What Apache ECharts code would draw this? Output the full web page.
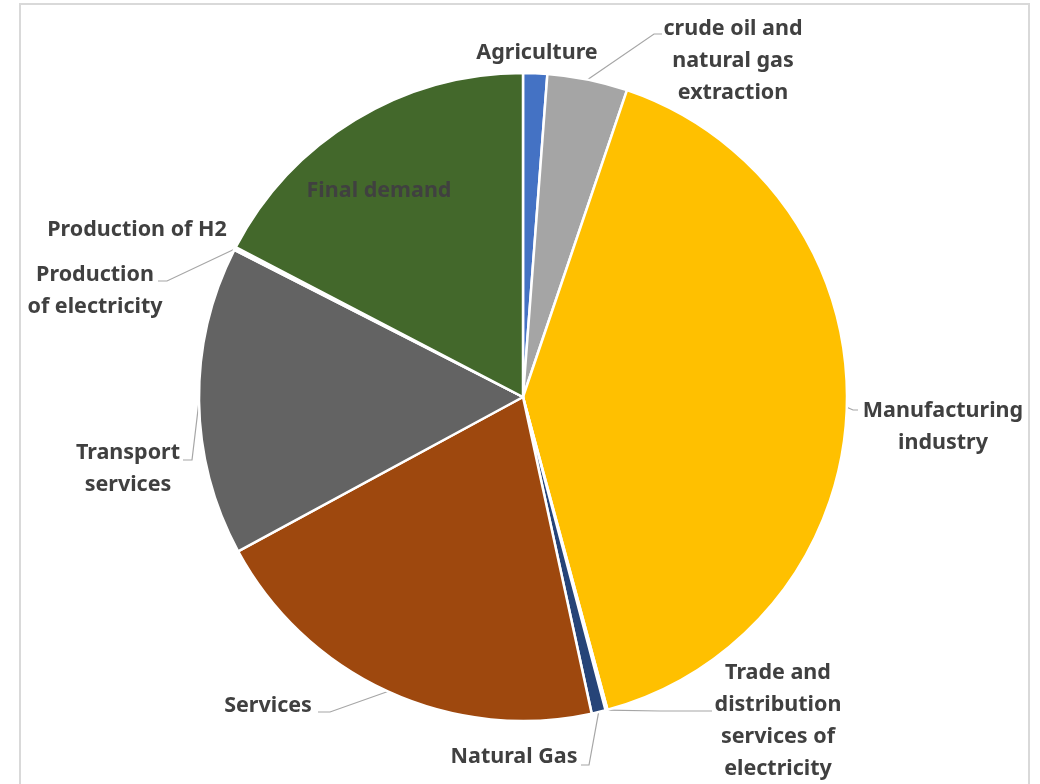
<!DOCTYPE html>
<html>
<head>
<meta charset="utf-8">
<script src="https://cdn.jsdelivr.net/npm/echarts@6/dist/echarts.min.js"></script>
<style>
  html, body { margin: 0; padding: 0; background: #ffffff; }
  #chart { width: 1040px; height: 784px; }
</style>
</head>
<body>
<div id="chart"></div>
<script>
// Share of the total by sector (percent), clockwise from 12 o'clock
const categories = [
  'Agriculture',
  'crude oil and\nnatural gas\nextraction',
  'Manufacturing\nindustry',
  'Trade and\ndistribution\nservices of\nelectricity',
  'Natural Gas',
  'Services',
  'Transport\nservices',
  'Production\nof electricity',
  'Production of H2',
  'Final demand'
];
const shares = [1.2, 4.0, 40.6, 0.1, 0.7, 20.5, 15.4, 0.1, 0.05, 17.35];
const sliceColors = ['#4472C4', '#A5A5A5', '#FFC000', '#70AD47', '#264478',
                     '#9E480E', '#636363', '#997300', '#255E91', '#43682B'];

// Where each label sits, and the bend/end of its guide line (null = no line)
const labelPlacement = [
  { x: 537, y: 53,  line: null },
  { x: 733, y: 61,  line: [[654, 34], [662, 34]] },
  { x: 943, y: 427, line: [[853, 410], [858, 410]] },
  { x: 778, y: 721, line: [[660, 711], [712, 711]] },
  { x: 514, y: 757, line: [[589, 765], [581, 765]] },
  { x: 268, y: 706, line: [[330, 712], [318, 712]] },
  { x: 128, y: 469, line: [[192, 460], [183, 460]] },
  { x: 95,  y: 291, line: [[167, 281], [158, 281]] },
  { x: 137, y: 230, line: null },
  { x: 379, y: 191, line: null }
];

const chart = echarts.init(document.getElementById('chart'), null, { renderer: 'canvas' });

const data = categories.map((name, i) => ({
  name: name,
  value: shares[i],
  itemStyle: { color: sliceColors[i] },
  labelLine: { show: !!labelPlacement[i].line }
}));

chart.setOption({
  animation: false,
  backgroundColor: '#ffffff',
  graphic: [{
    type: 'rect',
    shape: { x: 20, y: 4, width: 1009, height: 800 },
    style: { fill: 'none', stroke: '#d9d9d9', lineWidth: 2 },
    silent: true
  }],
  series: [{
    type: 'pie',
    center: [523, 397],
    radius: [0, 324],
    startAngle: 90,
    clockwise: true,
    avoidLabelOverlap: false,
    minAngle: 0,
    data: data,
    itemStyle: { borderColor: '#ffffff', borderWidth: 2.5 },
    label: {
      show: true,
      position: 'outside',
      formatter: '{b}',
      color: '#404040',
      fontFamily: 'Noto Sans',
      fontWeight: 'bold',
      fontSize: 21.5,
      lineHeight: 32,
      align: 'center',
      verticalAlign: 'middle'
    },
    labelLine: {
      show: true,
      lineStyle: { color: '#a6a6a6', width: 1.2 }
    },
    labelLayout: function (params) {
      const p = labelPlacement[params.dataIndex];
      const out = { x: p.x, y: p.y, align: 'center', verticalAlign: 'middle' };
      if (p.line && params.labelLinePoints) {
        out.labelLinePoints = [params.labelLinePoints[0], p.line[0], p.line[1]];
      }
      return out;
    },
    emphasis: { disabled: true }
  }]
});
</script>
</body>
</html>
